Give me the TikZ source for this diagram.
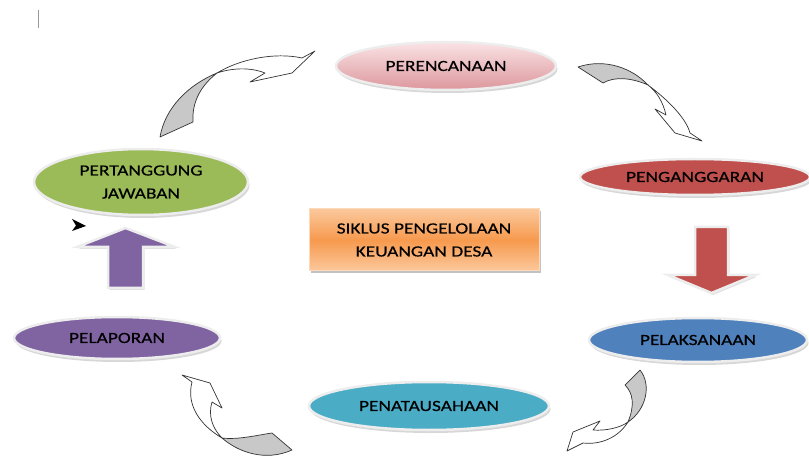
\documentclass[tikz,border=0pt]{standalone}
\usepackage{fontspec}
\setmainfont{Carlito}[FakeStretch=1.25,FakeBold=0.4]
\usetikzlibrary{shapes.geometric,shadows}
\definecolor{cgreen}{HTML}{9BBB59}
\definecolor{cpurple}{HTML}{8064A2}
\definecolor{cblue}{HTML}{4F81BD}
\definecolor{cteal}{HTML}{4BACC6}
\definecolor{cred}{HTML}{C0504D}
\definecolor{cpinkA}{HTML}{FAE3E5}
\definecolor{cpinkB}{HTML}{DC979D}
\definecolor{corA}{HTML}{FBC89C}
\definecolor{corB}{HTML}{F79A4E}
\definecolor{crim}{HTML}{EDEDED}
\definecolor{cribbon}{HTML}{C8C8C8}
\begin{document}
\begin{tikzpicture}[x=1pt,y=-1pt,
  every node/.style={font=\fontsize{15.5}{23}\selectfont, text=black},
  phase/.style={ellipse, inner sep=0pt, draw=crim, line width=2.5pt,
     drop shadow={shadow xshift=1.5pt, shadow yshift=-3pt, opacity=0.45, fill=gray!70}},
  ribbonback/.style={fill=cribbon, draw=black!80, line width=0.7pt, line join=round},
  ribbonfront/.style={fill=white, draw=black!80, line width=0.7pt, line join=round},
  blockarrow/.style={draw=crim, line width=2.5pt, line join=miter,
     drop shadow={shadow xshift=1.5pt, shadow yshift=-2pt, opacity=0.35, fill=gray!70}}]
\useasboundingbox (0,0) rectangle (809,457);

% text cursor
\coordinate (cur1) at (38.5,10);
\coordinate (cur2) at (38.5,28);
\draw[gray!80, line width=1pt] (cur1) -- (cur2);

% phases
\node[phase, top color=cpinkA, bottom color=cpinkB, minimum width=220, minimum height=48]
  (perencanaan) at (446,66) {PERENCANAAN};
\node[phase, fill=cred, minimum width=230, minimum height=36]
  (penganggaran) at (695,177) {PENGANGGARAN};
\node[phase, fill=cblue, minimum width=218, minimum height=44]
  (pelaksanaan) at (698,340) {PELAKSANAAN};
\node[phase, fill=cteal, minimum width=240, minimum height=48]
  (penatausahaan) at (429,406) {PENATAUSAHAAN};
\node[phase, fill=cpurple, minimum width=206, minimum height=42]
  (pelaporan) at (117,338) {PELAPORAN};
\node[phase, fill=cgreen, minimum width=214, minimum height=66, align=center]
  (pertanggung) at (141,182) {PERTANGGUNG\\JAWABAN};

% central box
\node[rectangle, minimum width=230, minimum height=62, inner sep=0pt, align=center,
  top color=corA, bottom color=corA, middle color=corB, draw=corA!70!white, line width=1pt,
  drop shadow={shadow xshift=2pt, shadow yshift=-2pt, opacity=0.6, fill=gray!80}]
  (siklus) at (424,240) {SIKLUS PENGELOLAAN\\KEUANGAN DESA};

% red down arrow
\filldraw[blockarrow, fill=cred] (695,227) -- (728,227) -- (728,275) -- (755,275)
  -- (711.5,293) -- (668,275) -- (695,275) -- cycle;

% purple up arrow
\filldraw[blockarrow, fill=cpurple] (108,288) -- (143,288) -- (143,247) -- (175,247)
  -- (125.5,228) -- (77,247) -- (108,247) -- cycle;

% small arrowhead
\fill[black] (72,219) -- (86,226) -- (72,231) -- (76,225.5) -- cycle;

% curved arrow 1 (pertanggung -> perencanaan)
\filldraw[ribbonback] (160,137) .. controls (165,108) and (188,85) .. (217,73)
  .. controls (198,88) and (192,105) .. (193,122) -- cycle;
\filldraw[ribbonfront] (217,73) .. controls (240,59) and (275,52) .. (302,58)
  -- (315,51) -- (292,73) -- (250,82) -- (265,73)
  .. controls (250,67) and (232,68) .. (217,73) -- cycle;

% curved arrow 2 (perencanaan -> penganggaran)
\filldraw[ribbonback] (578,67) .. controls (605,58) and (632,68) .. (648,85)
  .. controls (632,78) and (615,76) .. (603,83) -- cycle;
\filldraw[ribbonfront] (648,85) .. controls (668,100) and (686,118) .. (690,133)
  -- (702,141) -- (675,133) -- (655,109) -- (666,115)
  .. controls (663,102) and (657,92) .. (648,85) -- cycle;

% curved arrow 3 (pelaksanaan -> penatausahaan)
\filldraw[ribbonback] (625,385) -- (640,370) .. controls (652,385) and (646,410) .. (628,422)
  .. controls (635,405) and (633,393) .. (625,385) -- cycle;
\filldraw[ribbonfront] (628,422) .. controls (618,438) and (600,445) .. (583,443)
  -- (567,451) -- (573,432) -- (600,421) -- (593,430)
  .. controls (605,431) and (620,428) .. (628,422) -- cycle;

% curved arrow 4 (penatausahaan -> pelaporan)
\filldraw[ribbonback] (272,433) -- (292,450) .. controls (265,462) and (238,452) .. (222,438)
  .. controls (238,440) and (258,435) .. (272,433) -- cycle;
\filldraw[ribbonfront] (222,438) .. controls (200,425) and (186,405) .. (192,382)
  -- (182,375) -- (210,383) -- (222,408) -- (212,402)
  .. controls (208,415) and (212,428) .. (222,438) -- cycle;
\end{tikzpicture}
\end{document}
